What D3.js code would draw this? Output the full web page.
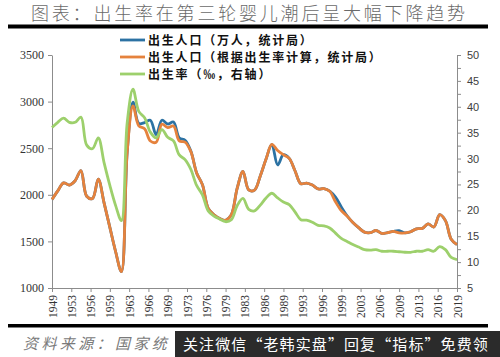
<!DOCTYPE html>
<html>
<head>
<meta charset="utf-8">
<script src="https://cdn.jsdelivr.net/npm/d3@7/dist/d3.min.js"></script>
<style>
  html, body { margin: 0; padding: 0; background: #ffffff; }
  svg { display: block; }
</style>
</head>
<body>
<script>
// ---------------- DATA ----------------
const years = [1949,1950,1951,1952,1953,1954,1955,1956,1957,1958,1959,1960,1961,1962,1963,1964,1965,1966,1967,1968,1969,
  1970,1971,1972,1973,1974,1975,1976,1977,1978,1979,1980,1981,1982,1983,1984,1985,1986,1987,1988,1989,
  1990,1991,1992,1993,1994,1995,1996,1997,1998,1999,2000,2001,2002,2003,2004,2005,2006,2007,2008,2009,
  2010,2011,2012,2013,2014,2015,2016,2017,2018,2019];

// 出生人口（万人，统计局）
const birthsStats = [1950,2042,2128,2105,2151,2260,1984,1961,2169,1913,1650,1389,1175,2460,2995,2765,2775,2800,2645,2800,2760,
  2780,2610,2585,2470,2235,2109,1853,1786,1745,1727,1787,2069,2250,2052,2050,2202,2384,2540,2320,2430,
  2391,2258,2119,2126,2104,2063,2067,2040,1975,1870,1775,1702,1647,1599,1593,1617,1585,1594,1608,1615,
  1592,1604,1635,1640,1687,1655,1786,1723,1523,1465];

// 出生人口（根据出生率计算，统计局）
const birthsCalc = [1950,2042,2128,2105,2151,2260,1984,1961,2169,1913,1650,1389,1175,2460,2955,2740,2709,2577,2564,2758,2720,
  2738,2578,2566,2463,2235,2109,1853,1786,1745,1727,1787,2069,2250,2052,2050,2202,2384,2540,2475,2430,
  2391,2258,2119,2126,2104,2063,2067,2038,1925,1830,1771,1702,1647,1599,1593,1617,1585,1594,1608,1591,
  1592,1604,1635,1640,1687,1655,1786,1723,1523,1465];

// 出生率（‰，右轴）
const birthRate = [36.0,37.0,37.8,37.0,37.0,38.0,32.6,31.9,34.0,29.2,24.8,20.9,18.0,37.0,43.4,39.1,37.9,35.1,34.0,35.6,34.1,
  33.4,30.7,29.8,27.9,24.8,23.0,19.9,18.9,18.3,17.8,18.2,20.9,22.3,20.2,19.9,21.0,22.4,23.3,22.4,21.6,
  21.1,19.7,18.2,18.1,17.7,17.1,17.0,16.6,15.6,14.6,14.0,13.4,12.9,12.4,12.3,12.4,12.1,12.1,12.1,12.0,
  11.9,11.9,12.1,12.1,12.4,12.1,13.0,12.4,10.9,10.5];

const xTickLabels = ["1949","1953","1956","1959","1963","1966","1969","1973","1976","1979","1983",
  "1986","1989","1993","1996","1999","2003","2006","2009","2013","2016","2019"];
const leftTicks = [1000,1500,2000,2500,3000,3500];
const rightTicks = [5,7.5,10,12.5,15,17.5,20,22.5,25,27.5,30,32.5,35,37.5,40,42.5,45,47.5,50];

const seriesNames = ["出生人口（万人，统计局）","出生人口（根据出生率计算，统计局）","出生率（‰，右轴）"];
const colors = ["#2c72a3","#e5823d","#9dd06c"];

const titleText = "图表：出生率在第三轮婴儿潮后呈大幅下降趋势";
const sourceText = "资料来源：国家统";
const watermarkText = "关注微信“老韩实盘”回复“指标”免费领";

// ---------------- CHART ----------------
const W = 500, H = 357;
const svg = d3.select("body").append("svg").attr("width", W).attr("height", H);
svg.append("rect").attr("width", W).attr("height", H).attr("fill", "#fff");

const x = d3.scaleLinear().domain([1949, 2019]).range([52, 457]);
const yL = d3.scaleLinear().domain([1000, 3500]).range([288, 55]);
const yR = d3.scaleLinear().domain([5, 50]).range([288, 55]);

// title
svg.append("text").attr("x", 31).attr("y", 20)
  .attr("font-family", "'Noto Sans CJK SC'").attr("font-size", 18).attr("font-weight", 300)
  .attr("letter-spacing", "2.8px").attr("fill", "#6a6a6a").text(titleText);
svg.append("rect").attr("x", 8).attr("y", 24.5).attr("width", 480).attr("height", 4).attr("fill", "#000");
svg.append("rect").attr("x", 8).attr("y", 324).attr("width", 480).attr("height", 3.5).attr("fill", "#000");

// axes
const axisColor = "#8c8c8c";
const gL = svg.append("g").attr("transform", "translate(52,0)")
  .call(d3.axisLeft(yL).tickValues(leftTicks).tickSize(4).tickSizeOuter(0).tickPadding(4).tickFormat(d3.format("d")));
gL.selectAll("text").attr("font-family", "'Liberation Serif', serif").attr("font-size", 12).attr("fill", "#333");

const gR = svg.append("g").attr("transform", "translate(457,0)")
  .call(d3.axisRight(yR).tickValues(rightTicks).tickSize(4).tickSizeOuter(0).tickPadding(6)
    .tickFormat(d => (d % 5 === 0 ? d : "")));
gR.selectAll("text").attr("font-family", "'Liberation Sans', sans-serif").attr("font-size", 11).attr("fill", "#404040");

const tickYears = xTickLabels.map((d, i) => 1949 + i * (2019 - 1949) / (xTickLabels.length - 1));
const gB = svg.append("g").attr("transform", "translate(0,288)")
  .call(d3.axisBottom(x).tickValues(tickYears).tickSize(4).tickSizeOuter(0).tickFormat((d, i) => xTickLabels[i]));
gB.selectAll("text")
  .attr("transform", "rotate(-90)").attr("text-anchor", "end")
  .attr("x", -7).attr("y", 0).attr("dy", "0.35em")
  .attr("font-family", "'Liberation Serif', serif").attr("font-size", 11.5).attr("fill", "#333");

[gL, gR, gB].forEach(g => {
  g.select(".domain").attr("stroke", axisColor);
  g.selectAll(".tick line").attr("stroke", axisColor);
});

// lines
const curve = d3.curveCatmullRom.alpha(0.5);
const lineL = d3.line().x((d, i) => x(years[i])).y(d => yL(d)).curve(curve);
const lineR = d3.line().x((d, i) => x(years[i])).y(d => yR(d)).curve(curve);

svg.append("path").datum(birthsStats).attr("d", lineL).attr("fill", "none")
  .attr("stroke", colors[0]).attr("stroke-width", 2.8).attr("stroke-linejoin", "round");
svg.append("path").datum(birthsCalc).attr("d", lineL).attr("fill", "none")
  .attr("stroke", colors[1]).attr("stroke-width", 2.8).attr("stroke-linejoin", "round");
svg.append("path").datum(birthRate).attr("d", lineR).attr("fill", "none")
  .attr("stroke", colors[2]).attr("stroke-width", 2.8).attr("stroke-linejoin", "round");

// legend
const legendY = [40, 57, 74];
seriesNames.forEach((name, i) => {
  svg.append("line").attr("x1", 120).attr("x2", 145).attr("y1", legendY[i]).attr("y2", legendY[i])
    .attr("stroke", colors[i]).attr("stroke-width", 2.8);
  svg.append("text").attr("x", 148).attr("y", legendY[i] + 4.5)
    .attr("font-family", "'Noto Sans CJK SC'").attr("font-size", 12).attr("font-weight", 700)
    .attr("letter-spacing", "1.8px").attr("fill", "#111").text(name);
});

// source
svg.append("text").attr("x", 23).attr("y", 349)
  .attr("font-family", "'Noto Sans CJK SC'").attr("font-size", 15).attr("font-style", "italic")
  .attr("letter-spacing", "3.4px").attr("fill", "#7a7a7a").text(sourceText);

// watermark overlay
svg.append("rect").attr("x", 175).attr("y", 331).attr("width", 325).attr("height", 26).attr("fill", "#2b2b2b");
svg.append("text").attr("x", 183).attr("y", 349.5)
  .attr("font-family", "'Noto Sans CJK SC'").attr("font-size", 15)
  .attr("letter-spacing", "1.1px").attr("fill", "#ffffff").text(watermarkText);
</script>
</body>
</html>
